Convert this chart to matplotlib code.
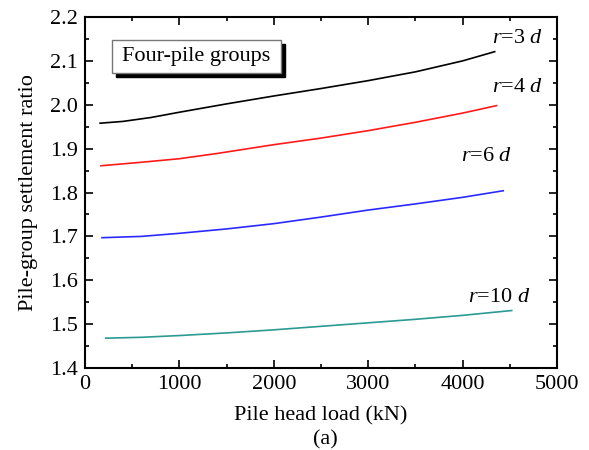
import matplotlib
matplotlib.use("Agg")
import matplotlib.pyplot as plt
from matplotlib.ticker import MultipleLocator
from matplotlib.patches import Rectangle

plt.rcParams['font.family'] = ['Liberation Serif', 'DejaVu Serif']
plt.rcParams['mathtext.fontset'] = 'custom'
plt.rcParams['mathtext.it'] = 'Liberation Serif:italic'
plt.rcParams['mathtext.rm'] = 'Liberation Serif'

# Data (pile head load kN, settlement ratio)
load_3d = [160, 400, 700, 1000, 1500, 2000, 2500, 3000, 3500, 4000, 4340]
ratio_3d = [1.958, 1.962, 1.971, 1.983, 2.002, 2.020, 2.037, 2.055, 2.075, 2.100, 2.121]

load_4d = [170, 600, 1000, 1400, 2000, 2500, 3000, 3500, 4000, 4360]
ratio_4d = [1.861, 1.869, 1.877, 1.889, 1.909, 1.924, 1.941, 1.960, 1.981, 1.998]

load_6d = [180, 600, 1000, 1500, 2000, 2500, 3000, 3500, 4000, 4430]
ratio_6d = [1.697, 1.700, 1.707, 1.717, 1.729, 1.744, 1.760, 1.774, 1.789, 1.804]

load_10d = [220, 600, 1000, 1500, 2000, 2500, 3000, 3500, 4000, 4520]
ratio_10d = [1.468, 1.470, 1.474, 1.480, 1.487, 1.495, 1.503, 1.511, 1.520, 1.531]

labels = [r'$r$=3 $d$', r'$r$=4 $d$', r'$r$=6 $d$', r'$r$=10 $d$']
label_pos = [(4310, 2.150), (4310, 2.040), (3980, 1.882), (4060, 1.560)]
colors = ['#000000', '#ff1a1a', '#2a2aff', '#2b9a95']

xticks = [0, 1000, 2000, 3000, 4000, 5000]
yticks = [1.4, 1.5, 1.6, 1.7, 1.8, 1.9, 2.0, 2.1, 2.2]

FS = 16

fig = plt.figure(figsize=(5.89, 4.5), dpi=100)
ax = fig.add_axes([0.1443, 0.1822, 0.8014, 0.78])

series = [(load_3d, ratio_3d), (load_4d, ratio_4d), (load_6d, ratio_6d), (load_10d, ratio_10d)]
for (x, y), c in zip(series, colors):
    ax.plot(x, y, color=c, lw=1.2)

for lab, (lx, ly) in zip(labels, label_pos):
    ax.text(lx, ly, lab, fontsize=FS, ha='left', va='center')

ax.set_xlim(0, 5000)
ax.set_ylim(1.4, 2.2)
ax.set_xticks(xticks)
ax.set_yticks(yticks)
ax.set_yticklabels([f'{v:.1f}' for v in yticks])
ax.xaxis.set_minor_locator(MultipleLocator(500))
ax.yaxis.set_minor_locator(MultipleLocator(0.05))
ax.tick_params(which='both', direction='in', top=True, right=True, labelsize=FS, width=1.2)
ax.tick_params(which='major', length=6)
ax.tick_params(axis='x', which='major', pad=5)
ax.tick_params(axis='y', which='major', pad=5)
ax.tick_params(which='minor', length=3)
for s in ax.spines.values():
    s.set_linewidth(1.5)

ax.set_xlabel('Pile head load (kN)', fontsize=FS, labelpad=9)
ax.set_ylabel('Pile-group settlement ratio', fontsize=FS, labelpad=9)
fig.text(0.553, 0.022, '(a)', fontsize=FS, ha='center', va='center')

# legend-like box with shadow
x0 = (112 - 85) / (557 - 85)
x1 = (281 - 85) / (557 - 85)
ytop = 1 - (40 - 17) / (368 - 17)
ybot = 1 - (72.7 - 17) / (368 - 17)
dx = 4 / (557 - 85)
dy = 4 / (368 - 17)
ax.add_patch(Rectangle((x0 + dx, ybot - dy), x1 - x0, ytop - ybot, transform=ax.transAxes,
                       facecolor='black', edgecolor='black', zorder=4))
ax.add_patch(Rectangle((x0, ybot), x1 - x0, ytop - ybot, transform=ax.transAxes,
                       facecolor='white', edgecolor='#777777', lw=1.0, zorder=5))
ax.text((x0 + x1) / 2, (ytop + ybot) / 2, 'Four-pile groups', transform=ax.transAxes,
        fontsize=FS, ha='center', va='center', zorder=6)

fig.savefig('out.png', dpi=100)
